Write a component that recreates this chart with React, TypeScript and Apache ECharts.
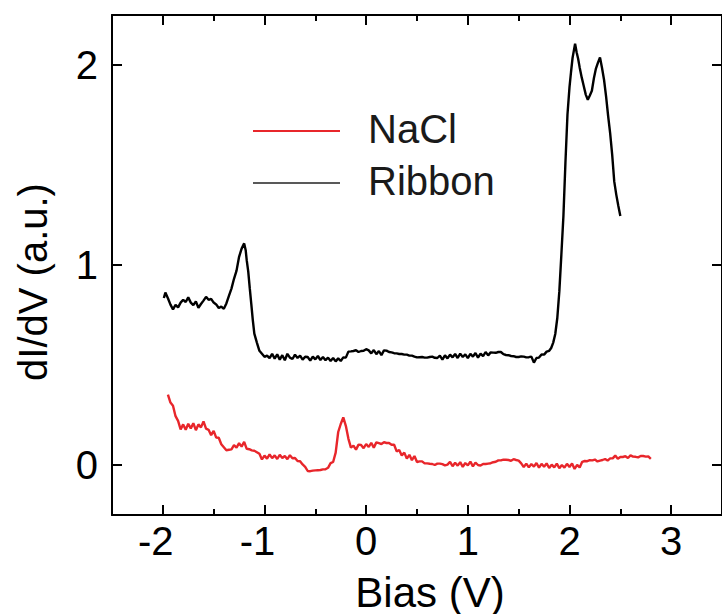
import React, { useEffect, useRef } from "react";
import * as echarts from "echarts";

const FONT = "'Liberation Sans', Arial, Helvetica, sans-serif";

const xMajorTicks = [-2, -1, 0, 1, 2, 3];
const xMinorTicks = [-2.5, -1.5, -0.5, 0.5, 1.5, 2.5, 3.5];
const yMajorTicks = [0, 1, 2];

const seriesNames = ["NaCl", "Ribbon"];
const seriesColors = ["#e8262b", "#000000"];

// NaCl spectrum: [bias (V), dI/dV (a.u.)]
const naclData: number[][] = [
  [-1.95, 0.352], [-1.925, 0.312], [-1.9, 0.296], [-1.875, 0.244], [-1.85, 0.221],
  [-1.825, 0.178], [-1.8, 0.203], [-1.775, 0.176], [-1.75, 0.206], [-1.725, 0.183],
  [-1.7, 0.209], [-1.675, 0.174], [-1.65, 0.203], [-1.625, 0.188], [-1.6, 0.218],
  [-1.575, 0.182], [-1.55, 0.176], [-1.525, 0.149], [-1.5, 0.171], [-1.475, 0.137],
  [-1.45, 0.136], [-1.425, 0.104], [-1.4, 0.089], [-1.375, 0.074], [-1.35, 0.076],
  [-1.325, 0.078], [-1.3, 0.099], [-1.275, 0.087], [-1.25, 0.109], [-1.225, 0.092],
  [-1.2, 0.116], [-1.175, 0.081], [-1.15, 0.079], [-1.125, 0.073], [-1.1, 0.071],
  [-1.075, 0.064], [-1.05, 0.056], [-1.025, 0.028], [-1.0, 0.047], [-0.975, 0.032],
  [-0.95, 0.053], [-0.925, 0.034], [-0.9, 0.048], [-0.875, 0.03], [-0.85, 0.051],
  [-0.825, 0.035], [-0.8, 0.045], [-0.775, 0.029], [-0.75, 0.049], [-0.725, 0.034],
  [-0.7, 0.035], [-0.675, 0.02], [-0.65, 0.019], [-0.625, 0.003], [-0.6, -0.009],
  [-0.575, -0.03], [-0.55, -0.031], [-0.525, -0.028], [-0.5, -0.027], [-0.475, -0.026],
  [-0.45, -0.025], [-0.425, -0.022], [-0.4, -0.021], [-0.375, -0.014], [-0.35, 0.009],
  [-0.325, 0.015], [-0.3, 0.062], [-0.275, 0.165], [-0.25, 0.205], [-0.225, 0.238],
  [-0.2, 0.196], [-0.175, 0.132], [-0.15, 0.087], [-0.125, 0.097], [-0.1, 0.077],
  [-0.075, 0.102], [-0.05, 0.1], [-0.025, 0.084], [0.0, 0.105], [0.025, 0.09],
  [0.05, 0.111], [0.075, 0.087], [0.1, 0.113], [0.125, 0.109], [0.15, 0.105],
  [0.175, 0.114], [0.2, 0.11], [0.225, 0.11], [0.25, 0.101], [0.275, 0.101],
  [0.3, 0.068], [0.325, 0.075], [0.35, 0.048], [0.375, 0.062], [0.4, 0.032],
  [0.425, 0.051], [0.45, 0.024], [0.475, 0.045], [0.5, 0.015], [0.525, 0.018],
  [0.55, 0.018], [0.575, 0.008], [0.6, 0.008], [0.625, 0.006], [0.65, 0.005],
  [0.675, 0.0], [0.7, 0.007], [0.725, 0.007], [0.75, 0.004], [0.775, -0.002],
  [0.8, 0.002], [0.825, 0.016], [0.85, -0.006], [0.875, 0.011], [0.9, -0.003],
  [0.925, 0.014], [0.95, -0.009], [0.975, 0.01], [1.0, -0.002], [1.025, 0.017],
  [1.05, -0.007], [1.075, 0.012], [1.1, 0.0], [1.125, -0.003], [1.15, 0.005],
  [1.175, 0.005], [1.2, 0.007], [1.225, 0.009], [1.25, 0.014], [1.275, 0.016],
  [1.3, 0.023], [1.325, 0.023], [1.35, 0.027], [1.375, 0.026], [1.4, 0.025],
  [1.425, 0.021], [1.45, 0.029], [1.475, 0.025], [1.5, 0.022], [1.525, 0.008],
  [1.55, -0.01], [1.575, 0.007], [1.6, -0.012], [1.625, 0.005], [1.65, -0.008],
  [1.675, 0.01], [1.7, -0.013], [1.725, 0.006], [1.75, -0.009], [1.775, 0.008],
  [1.8, -0.015], [1.825, 0.002], [1.85, -0.012], [1.875, 0.007], [1.9, -0.016],
  [1.925, 0.0], [1.95, -0.013], [1.975, 0.006], [2.0, -0.01], [2.025, 0.008],
  [2.05, -0.02], [2.075, 0.001], [2.1, -0.012], [2.125, 0.016], [2.15, 0.02],
  [2.175, 0.019], [2.2, 0.024], [2.225, 0.023], [2.25, 0.027], [2.275, 0.018],
  [2.3, 0.022], [2.325, 0.025], [2.35, 0.03], [2.375, 0.022], [2.4, 0.033],
  [2.425, 0.033], [2.45, 0.047], [2.475, 0.031], [2.5, 0.04], [2.525, 0.04],
  [2.55, 0.044], [2.575, 0.035], [2.6, 0.048], [2.625, 0.042], [2.65, 0.041],
  [2.675, 0.038], [2.7, 0.045], [2.725, 0.045], [2.75, 0.042], [2.775, 0.043],
  [2.8, 0.031],
];

// Ribbon spectrum: [bias (V), dI/dV (a.u.)]
const ribbonData: number[][] = [
  [-1.99, 0.835], [-1.975, 0.862], [-1.95, 0.834], [-1.925, 0.802], [-1.9, 0.778],
  [-1.875, 0.801], [-1.85, 0.788], [-1.825, 0.812], [-1.8, 0.826], [-1.775, 0.815],
  [-1.75, 0.838], [-1.725, 0.812], [-1.7, 0.799], [-1.675, 0.818], [-1.65, 0.786],
  [-1.625, 0.805], [-1.6, 0.822], [-1.575, 0.841], [-1.55, 0.826], [-1.525, 0.831],
  [-1.5, 0.812], [-1.475, 0.803], [-1.45, 0.785], [-1.425, 0.792], [-1.4, 0.781],
  [-1.375, 0.808], [-1.35, 0.846], [-1.325, 0.882], [-1.3, 0.931], [-1.275, 0.972],
  [-1.25, 1.041], [-1.225, 1.082], [-1.2, 1.108], [-1.185, 1.074], [-1.175, 1.024],
  [-1.16, 0.968], [-1.145, 0.884], [-1.13, 0.806], [-1.115, 0.724], [-1.1, 0.657],
  [-1.075, 0.612], [-1.05, 0.571], [-1.025, 0.556], [-1.0, 0.541], [-0.975, 0.547],
  [-0.95, 0.534], [-0.925, 0.556], [-0.9, 0.532], [-0.875, 0.553], [-0.85, 0.527],
  [-0.825, 0.549], [-0.8, 0.524], [-0.775, 0.556], [-0.75, 0.537], [-0.725, 0.53],
  [-0.7, 0.552], [-0.675, 0.535], [-0.65, 0.547], [-0.625, 0.527], [-0.6, 0.541],
  [-0.575, 0.54], [-0.55, 0.522], [-0.525, 0.542], [-0.5, 0.528], [-0.475, 0.545],
  [-0.45, 0.525], [-0.425, 0.54], [-0.4, 0.524], [-0.375, 0.537], [-0.35, 0.52],
  [-0.325, 0.535], [-0.3, 0.518], [-0.275, 0.533], [-0.25, 0.52], [-0.225, 0.538],
  [-0.2, 0.537], [-0.175, 0.567], [-0.15, 0.568], [-0.125, 0.57], [-0.1, 0.574],
  [-0.075, 0.565], [-0.05, 0.57], [-0.025, 0.571], [0.0, 0.579], [0.025, 0.573],
  [0.05, 0.558], [0.075, 0.575], [0.1, 0.554], [0.125, 0.57], [0.15, 0.549],
  [0.175, 0.573], [0.2, 0.572], [0.225, 0.565], [0.25, 0.563], [0.275, 0.559],
  [0.3, 0.558], [0.325, 0.555], [0.35, 0.555], [0.375, 0.552], [0.4, 0.552],
  [0.425, 0.547], [0.45, 0.547], [0.475, 0.542], [0.5, 0.538], [0.525, 0.539],
  [0.55, 0.54], [0.575, 0.537], [0.6, 0.537], [0.625, 0.54], [0.65, 0.542],
  [0.675, 0.536], [0.7, 0.535], [0.725, 0.547], [0.75, 0.527], [0.775, 0.548],
  [0.8, 0.533], [0.825, 0.552], [0.85, 0.538], [0.875, 0.555], [0.9, 0.535],
  [0.925, 0.557], [0.95, 0.54], [0.975, 0.553], [1.0, 0.534], [1.025, 0.556],
  [1.05, 0.542], [1.075, 0.56], [1.1, 0.537], [1.125, 0.557], [1.15, 0.544],
  [1.175, 0.565], [1.2, 0.548], [1.225, 0.563], [1.25, 0.562], [1.275, 0.561],
  [1.3, 0.565], [1.325, 0.565], [1.35, 0.554], [1.375, 0.55], [1.4, 0.549],
  [1.425, 0.545], [1.45, 0.544], [1.475, 0.54], [1.5, 0.54], [1.525, 0.543],
  [1.55, 0.542], [1.575, 0.538], [1.6, 0.539], [1.625, 0.542], [1.65, 0.512],
  [1.675, 0.535], [1.7, 0.537], [1.725, 0.553], [1.75, 0.552], [1.775, 0.567],
  [1.8, 0.571], [1.82, 0.585], [1.84, 0.612], [1.86, 0.655], [1.88, 0.735],
  [1.9, 0.868], [1.92, 1.052], [1.94, 1.243], [1.96, 1.512], [1.98, 1.752],
  [2.0, 1.889], [2.015, 1.965], [2.03, 2.035], [2.045, 2.078], [2.055, 2.106],
  [2.07, 2.064], [2.085, 2.031], [2.1, 1.988], [2.12, 1.938], [2.14, 1.895],
  [2.16, 1.852], [2.18, 1.826], [2.2, 1.848], [2.22, 1.871], [2.24, 1.934],
  [2.26, 1.982], [2.28, 2.012], [2.3, 2.038], [2.32, 1.985], [2.34, 1.925],
  [2.36, 1.842], [2.38, 1.745], [2.4, 1.658], [2.42, 1.551], [2.44, 1.418],
  [2.46, 1.352], [2.48, 1.296], [2.5, 1.245],
];

const X_MIN = -2.5;
const X_MAX = 3.5;
const Y_MIN = -0.25;
const Y_MAX = 2.25;

export default function App() {
  const ref = useRef<HTMLDivElement>(null);

  useEffect(() => {
    if (!ref.current) return;
    const chart = echarts.init(ref.current, undefined, { renderer: "svg" });

    const lineStyle = { color: "#000", width: 2 };
    const labelStyle = { fontFamily: FONT, fontSize: 40, color: "#000" };

    const makeX = (position: "top" | "bottom", ticks: number[], len: number, showLabel: boolean, showLine: boolean) => ({
      type: "value",
      position,
      min: X_MIN,
      max: X_MAX,
      gridIndex: 0,
      axisLine: { show: showLine, onZero: false, lineStyle },
      splitLine: { show: false },
      axisTick: { show: true, inside: true, length: len, customValues: ticks, lineStyle },
      axisLabel: showLabel
        ? {
            show: true,
            customValues: ticks,
            margin: 6,
            ...labelStyle,
            formatter: (v: number) => (v < 0 ? `{neg|${v}}` : `{pos|${v}}`),
            rich: {
              neg: { ...labelStyle, padding: [0, 14, 0, 0] },
              pos: { ...labelStyle },
            },
          }
        : { show: false },
    });

    const makeY = (position: "left" | "right", showLabel: boolean) => ({
      type: "value",
      position,
      min: Y_MIN,
      max: Y_MAX,
      gridIndex: 0,
      axisLine: { show: true, onZero: false, lineStyle },
      splitLine: { show: false },
      axisTick: { show: true, inside: true, length: 10, customValues: yMajorTicks, lineStyle },
      axisLabel: showLabel
        ? { show: true, customValues: yMajorTicks, margin: 14, ...labelStyle }
        : { show: false },
    });

    chart.setOption({
      animation: false,
      backgroundColor: "#fff",
      grid: { left: 112, top: 15, width: 617, height: 500, containLabel: false },
      xAxis: [
        makeX("bottom", xMajorTicks, 10, true, true),
        makeX("bottom", xMinorTicks, 6, false, false),
        makeX("top", xMajorTicks, 10, false, true),
        makeX("top", xMinorTicks, 6, false, false),
      ],
      yAxis: [makeY("left", true), makeY("right", false)],
      series: [
        {
          name: seriesNames[0],
          type: "line",
          xAxisIndex: 0,
          yAxisIndex: 0,
          data: naclData,
          showSymbol: false,
          symbol: "none",
          lineStyle: { color: seriesColors[0], width: 2.4 },
        },
        {
          name: seriesNames[1],
          type: "line",
          xAxisIndex: 0,
          yAxisIndex: 0,
          data: ribbonData,
          showSymbol: false,
          symbol: "none",
          lineStyle: { color: seriesColors[1], width: 2.4 },
        },
      ],
      graphic: [
        {
          type: "line",
          shape: { x1: 253, y1: 131, x2: 340, y2: 131 },
          style: { stroke: seriesColors[0], lineWidth: 2 },
        },
        {
          type: "text",
          x: 368,
          y: 129,
          style: { text: seriesNames[0], font: `40px ${FONT}`, fill: "#1a1a1a", align: "left", verticalAlign: "middle" },
        },
        {
          type: "line",
          shape: { x1: 253, y1: 183, x2: 340, y2: 183 },
          style: { stroke: "#222", lineWidth: 1.5 },
        },
        {
          type: "text",
          x: 368,
          y: 181,
          style: { text: seriesNames[1], font: `40px ${FONT}`, fill: "#1a1a1a", align: "left", verticalAlign: "middle" },
        },
        {
          type: "text",
          x: 430,
          y: 592,
          style: { text: "Bias (V)", font: `42px ${FONT}`, fill: "#000", align: "center", verticalAlign: "middle" },
        },
        {
          type: "text",
          x: 33,
          y: 282,
          rotation: Math.PI / 2,
          style: { text: "dI/dV (a.u.)", font: `40px ${FONT}`, fill: "#000", align: "center", verticalAlign: "middle" },
        },
      ],
    });

    return () => chart.dispose();
  }, []);

  return (
    <div
      ref={ref}
      style={{ position: "absolute", left: 0, top: 0, width: 722, height: 614, background: "#fff" }}
    />
  );
}
